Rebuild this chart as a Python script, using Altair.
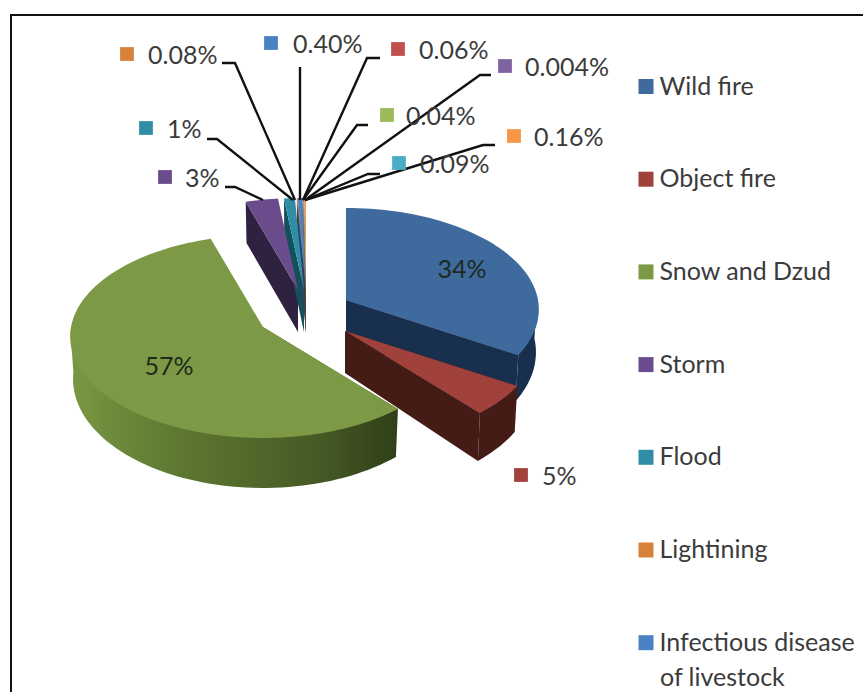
import math
import altair as alt
import pandas as pd

# Share of damage by disaster type, in pie order (clockwise from twelve o'clock)
categories = ["Wild fire", "Object fire", "Snow and Dzud", "Storm", "Flood", "Lightining",
              "Infectious disease of livestock", "Other A", "Other B", "Other C", "Other D", "Other E"]
values = [34, 5, 57, 3, 1, 0.08, 0.40, 0.06, 0.04, 0.004, 0.09, 0.16]
value_labels = ["34%", "5%", "57%", "3%", "1%", "0.08%", "0.40%", "0.06%", "0.04%", "0.004%", "0.09%", "0.16%"]
top_colors = ["#3e6a9e", "#a0413c", "#7c9a45", "#6a4c8c", "#2f8ea6", "#d8813a",
              "#4a82c4", "#c0504d", "#9bbb59", "#8064a2", "#4bacc6", "#f79646"]
side_colors = ["#182f4e", "#451b15", "#3d4f20", "#2f2140", "#14505c", "#5c3a1e",
               "#23476f", "#5a2523", "#47572a", "#3b2e4c", "#22505c", "#73461f"]

# Pie layout in page pixels: pulled-out apex of each slice, ellipse radii, perspective
apexes = [(346, 300), (345, 331), (263, 327), (298, 290), (304, 290), (306, 290), (306, 290),
          (306, 290), (306, 290), (306, 290), (306, 290), (306, 290)]
RX, RY, PERSPECTIVE = 192, 100.6, 0.0936

# Value labels: key square centre and text start on the page, for the outer labels
label_layout = {
    "5%": (521, 475, 542), "3%": (165, 177, 185), "1%": (146, 128, 167),
    "0.08%": (127, 54, 148), "0.40%": (271, 43, 293), "0.06%": (398, 49, 419),
    "0.04%": (387, 115, 406), "0.004%": (505, 66, 525), "0.09%": (399, 163, 420),
    "0.16%": (514, 136, 534),
}
inside_labels = {"34%": (462, 270), "57%": (169, 367)}
leaders = [
    [(222, 63), (235, 63), (295, 200)],
    [(300, 67), (300, 200)],
    [(380, 58), (367, 58), (303, 200)],
    [(491, 75), (480, 75), (305, 200)],
    [(368, 125), (357, 125), (303, 200)],
    [(495, 145), (483, 145), (305, 200)],
    [(380, 174), (368, 174), (305, 200)],
    [(207, 139), (217, 139), (293, 200)],
    [(225, 187), (235, 187), (263, 200)],
]

total = sum(values)
edges = [0.0]
for v in values:
    edges.append(edges[-1] + v / total * 360)


def project(apex, deg, lowered=False):
    """Place a rim point of a slice on the tilted disc, optionally on its lower face."""
    u, v = math.sin(math.radians(deg)), -math.cos(math.radians(deg))
    k = 1 - PERSPECTIVE * v
    px, py = RX * u / k, RY * v / k
    if lowered:
        px *= 0.985
        py += 42 + (0.072 * py if py > 0 else 0.01 * py)
    return apex[0] + px, apex[1] + py


def arc(apex, a, b, lowered=False):
    steps = max(2, int(abs(b - a) / 2) + 1)
    return [project(apex, a + (b - a) * s / steps, lowered) for s in range(steps + 1)]


def rows(points, **extra):
    return [{"i": i, "x": p[0], "y": p[1], **extra} for i, p in enumerate(points)]


def rim_outline(apex, a, b):
    # Runs back through the apex so the top face, painted later, hides the join
    return [apex, project(apex, a)] + arc(apex, a, b, True) + [project(apex, b), apex]


top_rows, side_rows, rim_rows = [], [], []
for n, (cat, apex) in enumerate(zip(categories, apexes)):
    a, b = edges[n], edges[n + 1]
    top_rows += rows([apex] + arc(apex, a, b) + [apex], cat=cat)
    low_apex = (apex[0], apex[1] + 42)
    # Radial wall facing the viewer: the closing edge on the right, the opening edge on the left
    wall_deg = b if n < 2 else a
    if n != 2:
        wall = [apex, project(apex, wall_deg), project(apex, wall_deg, True), low_apex, apex]
        side_rows += rows(wall, poly=f"wall{n}", shade=side_colors[n])
    if n < 2:
        side_rows += rows(rim_outline(apex, max(a, 88), b), poly=f"rim{n}", shade=side_colors[n])
    if n == 2:
        rim_rows += rows(rim_outline(apex, a, 268))

x_enc = alt.X("x:Q", scale=alt.Scale(domain=[0, 863], nice=False, zero=False), axis=None)
y_enc = alt.Y("y:Q", scale=alt.Scale(domain=[692, 0], nice=False, zero=False), axis=None)
fill_scale = alt.Scale(domain=categories, range=top_colors)

FONT = "Lato"
TEXT = "#3b3b3b"
SIZE = 25

sides = alt.Chart(pd.DataFrame(side_rows)).mark_line(strokeWidth=0).encode(
    x=x_enc, y=y_enc, order="i:Q", detail="poly:N", fill=alt.Fill("shade:N", scale=None))

green_rim = alt.Chart(pd.DataFrame(rim_rows)).mark_line(
    strokeWidth=0,
    fill=alt.Gradient(gradient="linear", x1=0, x2=1, y1=0, y2=0, stops=[
        alt.GradientStop(offset=0, color="#7a9844"),
        alt.GradientStop(offset=0.3, color="#5f7a32"),
        alt.GradientStop(offset=0.75, color="#465a25"),
        alt.GradientStop(offset=1, color="#303f18"),
    ])).encode(x=x_enc, y=y_enc, order="i:Q")

tops = alt.Chart(pd.DataFrame(top_rows)).mark_line(strokeWidth=0).encode(
    x=x_enc, y=y_enc, order="i:Q",
    fill=alt.Fill("cat:N", scale=fill_scale, legend=alt.Legend(
        title=None, orient="none", legendX=633.5, legendY=74, values=categories[:7],
        symbolType="square", symbolSize=225, symbolStrokeWidth=0, labelFont=FONT,
        labelFontSize=SIZE, labelColor=TEXT, labelLimit=300, labelOffset=1, padding=0,
        rowPadding=66.7, labelExpr="datum.label == 'Infectious disease of livestock' ? "
                                   "'Infectious disease' : datum.label")))

# Second line of the wrapped legend entry
wrap_text = alt.Chart(pd.DataFrame([{"t": "of livestock", "x": 660, "y": 678}])).mark_text(
    align="left", baseline="middle", font=FONT, fontSize=SIZE, color=TEXT
).encode(x=x_enc, y=y_enc, text="t:N")

leader_rows = []
for n, line in enumerate(leaders):
    leader_rows += rows(line, line=n)
leader_lines = alt.Chart(pd.DataFrame(leader_rows)).mark_line(
    color="#111111", strokeWidth=2.4).encode(x=x_enc, y=y_enc, order="i:Q", detail="line:N")

by_label = dict(zip(value_labels, categories))
key_df = pd.DataFrame([{"cat": by_label[t], "x": p[0], "y": p[1]} for t, p in label_layout.items()])
keys = alt.Chart(key_df).mark_square(size=190, opacity=1, strokeWidth=0).encode(
    x=x_enc, y=y_enc, fill=alt.Fill("cat:N", scale=fill_scale, legend=None))

text_df = pd.DataFrame([{"t": t, "x": p[2], "y": p[1] + 2} for t, p in label_layout.items()])
outer_text = alt.Chart(text_df).mark_text(
    align="left", baseline="middle", font=FONT, fontSize=SIZE, color=TEXT
).encode(x=x_enc, y=y_enc, text="t:N")

in_df = pd.DataFrame([{"t": t, "x": p[0], "y": p[1]} for t, p in inside_labels.items()])
inner_text = alt.Chart(in_df).mark_text(
    align="center", baseline="middle", font=FONT, fontSize=SIZE, color="#1c2a1c"
).encode(x=x_enc, y=y_enc, text="t:N")

# Frame: top and left edges only, the right and bottom run off the page
frame_df = pd.DataFrame(rows([(11, 692), (11, 15), (863, 15)]))
frame = alt.Chart(frame_df).mark_line(color="#111111", strokeWidth=2).encode(
    x=x_enc, y=y_enc, order="i:Q")

chart = alt.layer(frame, sides, green_rim, tops, leader_lines, keys, outer_text, inner_text, wrap_text).properties(
    width=863, height=692, padding=0, autosize=alt.AutoSizeParams(type="none"),
    background="white"
).configure_view(stroke=None)

chart.save("out.html", embed_options={"renderer": "svg", "actions": False})
